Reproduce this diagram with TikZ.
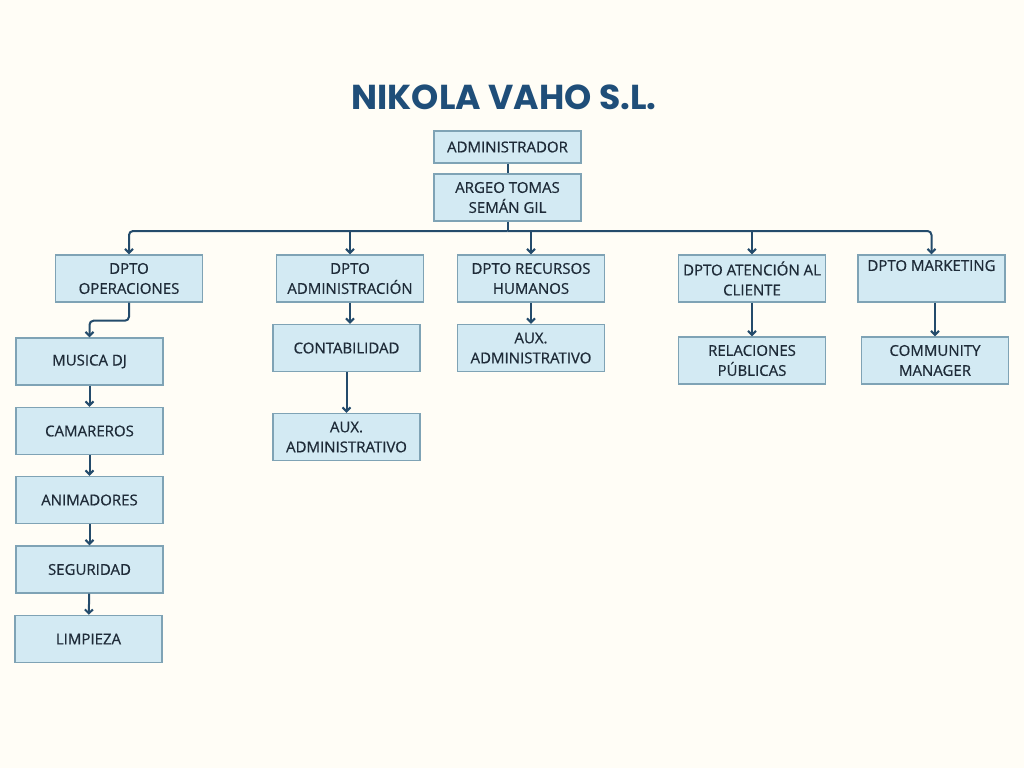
\documentclass[tikz,border=0pt]{standalone}
\usepackage{fontspec}
\setmainfont{Open Sans}
\newfontfamily\boxfont{Open Sans}[FakeBold=0.6]
\newfontfamily\titlefont{Poppins}
\usepackage{tikz}
\usetikzlibrary{arrows.meta}
\definecolor{bgcol}{HTML}{FFFDF6}
\definecolor{boxfill}{HTML}{D3EAF3}
\definecolor{boxline}{HTML}{7FA3B5}
\definecolor{linkcol}{HTML}{244B6B}
\definecolor{titlecol}{HTML}{1F4E79}
\definecolor{boxtext}{HTML}{1E2B38}

\begin{document}
\begin{tikzpicture}[x=1pt, y=-1pt,
  box/.style={draw=boxline, fill=boxfill, line width=1.4pt, minimum width=147pt,
    minimum height=47pt, inner sep=2pt, align=center, text=boxtext,
    font=\boxfont\fontsize{15}{20}\selectfont},
  link/.style={draw=linkcol, line width=2pt},
  >={Straight Barb[length=4pt, width=8pt]}]
  \fill [bgcol] (0,0) rectangle (1024,768);
  \useasboundingbox (0,0) rectangle (1024,768);
  \node [text=titlecol, font=\titlefont\bfseries\fontsize{34.6}{40}\selectfont] (title) at (504,97) {NIKOLA VAHO S.L.};
  \node [box, minimum height=32pt] (adm) at (507.5,147) {ADMINISTRADOR};
  \node [box] (argeo) at (507.5,197.5) {ARGEO TOMAS\\SEMÁN GIL};
  \coordinate (bus) at (507.5,231);
  \node [box] (ops) at (129,278.5) {DPTO\\OPERACIONES};
  \node [box] (dadm) at (350,278.5) {DPTO\\ADMINISTRACIÓN};
  \node [box] (drh) at (531,278.5) {DPTO RECURSOS\\HUMANOS};
  \node [box] (datc) at (752,278.5) {DPTO ATENCIÓN AL\\CLIENTE};
  \node [box] (mkt) at (931.5,278.5) {DPTO MARKETING\\\strut};
  \node [box] (dj) at (89.5,361.5) {MUSICA DJ};
  \node [box] (cam) at (89.5,431) {CAMAREROS};
  \node [box] (ani) at (89.5,500) {ANIMADORES};
  \node [box] (seg) at (89.5,569.5) {SEGURIDAD};
  \node [box] (limp) at (88.5,639) {LIMPIEZA};
  \node [box] (cont) at (346.5,348) {CONTABILIDAD};
  \node [box] (aux1) at (346.5,437) {AUX.\\ADMINISTRATIVO};
  \node [box] (aux2) at (531,348) {AUX.\\ADMINISTRATIVO};
  \node [box] (rp) at (752,360.5) {RELACIONES\\PÚBLICAS};
  \node [box] (cm) at (935,360.5) {COMMUNITY\\MANAGER};
  % top of the chart
  \draw [link] (adm) -- (argeo);
  \draw [link] (argeo) -- (bus);
  \draw [link, ->, rounded corners=4] (bus) -| (ops);
  \draw [link, ->, rounded corners=4] (bus) -| (mkt);
  \draw [link, ->] (dadm |- bus) -- (dadm);
  \draw [link, ->] (drh |- bus) -- (drh);
  \draw [link, ->] (datc |- bus) -- (datc);
  % operaciones
  \draw [link, ->, rounded corners=4] (ops.south) -- ++(0,18) -| (dj);
  \draw [link, ->] (dj) -- (cam);
  \draw [link, ->] (cam) -- (ani);
  \draw [link, ->] (ani) -- (seg);
  \draw [link, ->] (seg) -- (limp);
  % other departments
  \draw [link, ->] (dadm) -- (dadm |- cont.north);
  \draw [link, ->] (cont) -- (aux1);
  \draw [link, ->] (drh) -- (aux2);
  \draw [link, ->] (datc) -- (rp);
  \draw [link, ->] (cm |- mkt.south) -- (cm);
\end{tikzpicture}
\end{document}
